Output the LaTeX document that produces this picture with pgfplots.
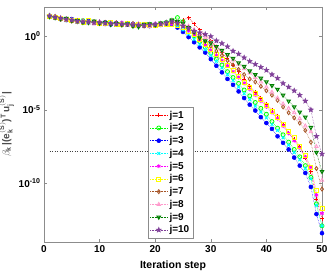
\documentclass[border=0pt]{standalone}
\usepackage{fontspec}
\setmainfont{Liberation Sans}
\usepackage{pgfplots}
\pgfplotsset{compat=1.18}
\usepackage{pgfplotstable}
\usetikzlibrary{plotmarks}
\definecolor{cj1}{rgb}{1,0,0}
\definecolor{cj2}{rgb}{0,1,0}
\definecolor{cj3}{rgb}{0,0,1}
\definecolor{cj4}{rgb}{0,1,1}
\definecolor{cj5}{rgb}{1,0,1}
\definecolor{cj6}{rgb}{1,1,0}
\definecolor{cj7}{rgb}{0.65,0.33,0.15}
\definecolor{cj8}{rgb}{1,0.6,0.8}
\definecolor{cj9}{rgb}{0,0.5,0}
\definecolor{cj10}{rgb}{0.5,0.25,0.6}
\pgfdeclareplotmark{pstar}{%
  \pgfpathmoveto{\pgfpointpolar{90}{1.3\pgfplotmarksize}}%
  \pgfpathlineto{\pgfpointpolar{126}{0.55\pgfplotmarksize}}%
  \pgfpathlineto{\pgfpointpolar{162}{1.3\pgfplotmarksize}}%
  \pgfpathlineto{\pgfpointpolar{198}{0.55\pgfplotmarksize}}%
  \pgfpathlineto{\pgfpointpolar{234}{1.3\pgfplotmarksize}}%
  \pgfpathlineto{\pgfpointpolar{270}{0.55\pgfplotmarksize}}%
  \pgfpathlineto{\pgfpointpolar{306}{1.3\pgfplotmarksize}}%
  \pgfpathlineto{\pgfpointpolar{342}{0.55\pgfplotmarksize}}%
  \pgfpathlineto{\pgfpointpolar{18}{1.3\pgfplotmarksize}}%
  \pgfpathlineto{\pgfpointpolar{54}{0.55\pgfplotmarksize}}%
  \pgfpathclose\pgfusepathqfillstroke}

\pgfplotstableread{
k j1 j2 j3 j4 j5 j6 j7 j8 j9 j10
1 23 25 24 22 26 23 24 27 22 25
2 20 21 18 22 19 20 23 21 19 20
3 16 15 17 18 14 16 15 19 16 17
4 14 15 13 12 16 14 15 13 17 14
5 12 14 15 11 13 12 11 14 12 13
6 11 10 12 13 11 12 10 9.5 12 11
7 10 12 9.5 11 10 8.5 11 12 9 10
8 9 10 11 8.5 9.5 12 8.5 10 9 9.5
9 8 9.5 8.5 10 7.5 9 10 8 11 8.5
10 9 7.5 8.5 7 9.5 8 7.5 10 8 9
11 7.5 8.5 9 8 6.5 7.5 9 7 8.5 8
12 8 7 6.5 8.5 7.5 9 7 8 6.5 7.5
13 6.5 7.5 8 6 7 6.5 8.5 7 7.5 7
14 7 6 7.5 6.5 8.5 7 6 7.5 6.5 7
15 6 7 6.5 7.5 6 8 6.5 6 7 6.5
16 6.5 5.5 7 6 6.5 5.5 7.5 6.5 5 6
17 5.5 6.5 5.5 6.5 5 6.5 6 7 4.5 6
18 6 5.5 6.5 5 6 7 5 6 6.5 5.5
19 5.5 6.5 5 6.5 5.5 6 6.5 5 7 6
20 6.5 6 6.5 5.5 7 5.5 6 7 6 6.5
21 7 7.5 6 6.5 6 7 7.5 6 8 7
22 7.5 9 7 7 6.5 7 8.5 8 8 8.5
23 7.9 12.6 6.3 7.1 7.1 6.3 10 12.6 12.6 10
24 10 19 4.0 5.0 7.9 5.6 7.9 10 10 7.9
25 12.6 10 2.0 2.8 5.0 4.0 6.3 7.1 7.9 5.0
26 19 3.16 0.891 1.41 2.5 2.24 4.0 5.0 4.0 3.55
27 7.1 1.12 0.398 0.631 1.26 1.26 2.0 2.8 2.0 2.24
28 2.8 0.447 0.178 0.282 0.562 0.631 1.0 1.58 0.794 1.78
29 1.26 0.178 0.0794 0.126 0.251 0.282 0.447 0.794 0.501 1.38
30 0.5 0.0708 0.0282 0.0501 0.112 0.126 0.224 0.398 0.355 1.0
31 0.2 0.0282 0.01 0.02 0.0501 0.0562 0.1 0.2 0.2 0.501
32 0.079 0.0112 3.55e-3 7.08e-3 0.0224 0.0251 0.0501 0.1 0.112 0.331
33 0.0316 3.98e-3 1.26e-3 2.51e-3 0.01 0.01 0.0224 0.0501 0.0562 0.2
34 0.0112 1.58e-3 5.01e-4 1e-3 3.98e-3 4.47e-3 0.0112 0.0251 0.0316 0.1
35 3.98e-3 6.31e-4 1.78e-4 3.55e-4 1.58e-3 2.0e-3 5.62e-3 0.0126 0.0158 0.0631
36 1.26e-3 2.24e-4 6.31e-5 1.26e-4 6.31e-4 7.94e-4 2.51e-3 6.31e-3 8.91e-3 0.0355
37 3.98e-4 8.91e-5 2.24e-5 5.01e-5 2.51e-4 3.16e-4 1.26e-3 3.16e-3 4.47e-3 0.02
38 1.58e-4 3.16e-5 8.91e-6 1.78e-5 1e-4 1.26e-4 7.94e-4 1.58e-3 2.51e-3 0.0126
39 6.31e-5 1.26e-5 3.16e-6 7.08e-6 3.98e-5 5.01e-5 3.98e-4 7.94e-4 1.41e-3 7.94e-3
40 2.51e-5 5.01e-6 1.26e-6 2.82e-6 1.58e-5 2.0e-5 2.0e-4 3.55e-4 7.94e-4 5.01e-3
41 1e-5 1.58e-6 5.01e-7 1e-6 6.31e-6 7.94e-6 1e-4 1.58e-4 4.47e-4 2.51e-3
42 3.98e-6 5.62e-7 1.58e-7 3.98e-7 2.51e-6 3.16e-6 4.47e-5 6.31e-5 2.51e-4 1.41e-3
43 1e-6 2.0e-7 5.62e-8 1.26e-7 7.94e-7 1e-6 1.58e-5 2.51e-5 1e-4 6.31e-4
44 2.51e-7 6.31e-8 2.0e-8 3.98e-8 2.51e-7 3.16e-7 6.31e-6 1.26e-5 3.98e-5 3.55e-4
45 1e-7 2.0e-8 5.62e-9 1.26e-8 7.94e-8 1.26e-7 2.82e-6 6.31e-6 1.58e-5 2.0e-4
46 3.16e-8 6.31e-9 1.58e-9 3.98e-9 2.51e-8 3.16e-8 1.26e-6 2.51e-6 7.08e-6 1e-4
47 5.01e-9 1.58e-9 5.01e-10 1e-9 6.31e-9 7.94e-9 3.98e-7 7.94e-7 3.16e-6 3.98e-5
48 6.31e-10 2.51e-10 5.62e-11 2.0e-10 1.26e-9 1.26e-9 6.31e-8 3.16e-7 6.31e-7 1e-5
49 7.94e-12 3.98e-12 7.94e-13 3.16e-12 1.58e-11 3.16e-11 1e-9 3.16e-8 1.26e-8 1.58e-7
50 3.98e-13 1.26e-13 3.98e-14 1.26e-13 8.91e-13 2.0e-12 3.98e-11 1.58e-10 6.31e-10 1e-8
}\datatab

\begin{document}
\begin{tikzpicture}
\begin{axis}[
  scale only axis,
  width=278pt, height=235pt,
  at={(0,0)}, anchor=south west,
  ymode=log,
  xmin=0, xmax=50, ymin=1e-14, ymax=1e2,
  xtick={0,10,20,30,40,50},
  ytick={1e-10,1e-5,1},
  yticklabels={10\textsuperscript{-10},10\textsuperscript{-5},10\textsuperscript{0}},
  yminorticks=false,
  tick align=inside,
  major tick length=3pt,
  axis line style={black!45},
  tick style={black!45},
  /pgf/number format/assume math mode=true,
  ticklabel style={font=\bfseries\fontsize{10}{12}\selectfont},
  clip=false,
  every axis x label/.style={at={(axis description cs:0.464,0)}, anchor=center, yshift=-24pt},
  every axis y label/.style={at={(axis description cs:-0.135,0.5)}, rotate=90, anchor=center},
  xlabel={\bfseries\fontsize{10.5}{12}\selectfont Iteration step},
  ylabel={\color{black!70}\fontsize{10}{12}\selectfont\bfseries $\beta_{\mathbf{k}}$\,|(e$^{\mathbf{(S)}}_{\mathbf{k}}$)$^{\mathbf{T}}$\,u$^{\mathbf{(S)}}_{\mathbf{j}}$|},
  legend cell align=left,
  legend style={at={(0.536,0.017)}, anchor=south east, draw=black!45,
    font=\bfseries\fontsize{10}{11}\selectfont, inner sep=1.5pt, row sep=0pt},
  every axis plot/.append style={densely dotted, line width=0.5pt, mark size=2pt},
]
\addplot[black!75, dotted, line width=0.5pt, forget plot] coordinates {(1,1.49e-8) (50,1.49e-8)};
\addplot[cj1, mark=+, mark options={solid, line width=0.8pt}] table[x=k,y=j1]{\datatab};
\addplot[cj2, mark=o, mark options={solid, line width=0.8pt}] table[x=k,y=j2]{\datatab};
\addplot[cj3, mark=*, mark options={solid, fill=cj3}] table[x=k,y=j3]{\datatab};
\addplot[cj4, mark=x, mark options={solid, line width=1pt}] table[x=k,y=j4]{\datatab};
\addplot[cj5, mark=asterisk, mark options={solid, line width=0.9pt}] table[x=k,y=j5]{\datatab};
\addplot[cj6, mark=square, mark options={solid, line width=0.8pt}] table[x=k,y=j6]{\datatab};
\addplot[cj7, mark=diamond, mark options={solid, line width=0.8pt}] table[x=k,y=j7]{\datatab};
\addplot[cj8, mark=triangle, mark options={solid, line width=0.8pt}] table[x=k,y=j8]{\datatab};
\addplot[cj9, mark=triangle, mark options={solid, rotate=180, line width=1pt}] table[x=k,y=j9]{\datatab};
\addplot[cj10, mark=pstar, mark options={solid, fill=cj10}] table[x=k,y=j10]{\datatab};
\legend{j=1,j=2,j=3,j=4,j=5,j=6,j=7,j=8,j=9,j=10}
\end{axis}
\pgfresetboundingbox
\path[use as bounding box] (-44pt,-31pt) rectangle (283pt,242pt);
\end{tikzpicture}
\end{document}
